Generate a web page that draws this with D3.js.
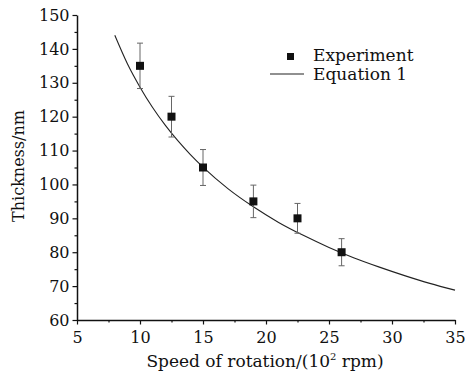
<!DOCTYPE html>
<html>
<head>
<meta charset="utf-8">
<script src="https://cdn.jsdelivr.net/npm/d3@7"></script>
<style>
  body { margin: 0; background: #fff; }
  svg text { font-family: "DejaVu Serif", "Liberation Serif", serif; fill: #111; }
</style>
</head>
<body>
<div id="chart"></div>
<script>
// experiment points
const speeds = [10, 12.5, 15, 19, 22.5, 26];
const thickness = [135, 120, 105, 95, 90, 80];
const errors = [6.7, 6, 5.3, 4.8, 4.4, 4];

// Equation 1 curve
const curveX = [8, 9, 10, 11, 12, 13, 14, 15, 17, 19, 21, 23, 25, 27, 29, 31, 33, 35];
const curveY = [144, 135.6, 128.7, 122.7, 117.5, 112.9, 108.8, 105.1, 98.7, 93.4, 88.8, 84.9, 81.4, 78.3, 75.6, 73.1, 70.8, 68.8];

const xTicks = [5, 10, 15, 20, 25, 30, 35];
const yTicks = [60, 70, 80, 90, 100, 110, 120, 130, 140, 150];
const legendLabels = ["Experiment", "Equation 1"];

const width = 465, height = 375;
const margin = { left: 77, right: 10, top: 15, bottom: 55 };

const svg = d3.select("#chart").append("svg")
  .attr("width", width)
  .attr("height", height);

const x = d3.scaleLinear().domain([5, 35]).range([margin.left, 455]);
const y = d3.scaleLinear().domain([60, 150]).range([height - margin.bottom, margin.top]);

// minor ticks first
svg.append("g")
  .attr("transform", "translate(0," + y(60) + ")")
  .call(d3.axisBottom(x).tickValues(d3.range(7.5, 35, 5)).tickSize(2.5).tickFormat(""))
  .call(g => g.select(".domain").remove());
svg.append("g")
  .attr("transform", "translate(" + x(5) + ",0)")
  .call(d3.axisLeft(y).tickValues(d3.range(65, 150, 10)).tickSize(2.5).tickFormat(""))
  .call(g => g.select(".domain").remove());

const xAxis = svg.append("g")
  .attr("transform", "translate(0," + y(60) + ")")
  .call(d3.axisBottom(x).tickValues(xTicks).tickSize(4.5).tickSizeOuter(0).tickPadding(5));
const yAxis = svg.append("g")
  .attr("transform", "translate(" + x(5) + ",0)")
  .call(d3.axisLeft(y).tickValues(yTicks).tickSize(4.5).tickSizeOuter(0).tickPadding(3));

svg.selectAll(".domain").attr("stroke", "#111").attr("stroke-width", 1.5);
svg.selectAll(".tick line").attr("stroke", "#111").attr("stroke-width", 1.2);
xAxis.selectAll("text").style("font-size", "16px").attr("dy", "0.85em");
yAxis.selectAll("text").style("font-size", "16px");

// axis titles
const xt = svg.append("text")
  .attr("x", 265)
  .attr("y", 367)
  .attr("text-anchor", "middle")
  .style("font-size", "17px");
xt.append("tspan").text("Speed of rotation/(10");
xt.append("tspan").attr("dy", -7).style("font-size", "10px").text("2");
xt.append("tspan").attr("dy", 7).text(" rpm)");

svg.append("text")
  .attr("transform", "translate(24," + 166 + ") rotate(-90)")
  .attr("text-anchor", "middle")
  .style("font-size", "16px")
  .text("Thickness/nm");

// fitted curve
const line = d3.line()
  .x(d => x(d[0]))
  .y(d => y(d[1]))
  .curve(d3.curveMonotoneX);
svg.append("path")
  .datum(d3.zip(curveX, curveY))
  .attr("fill", "none")
  .attr("stroke", "#222")
  .attr("stroke-width", 1.1)
  .attr("d", line);

// error bars
const pts = speeds.map((s, i) => ({ s: s, t: thickness[i], e: errors[i] }));
const eb = svg.append("g").attr("stroke", "#666").attr("stroke-width", 1);
eb.selectAll(".v").data(pts).enter().append("line")
  .attr("x1", d => x(d.s)).attr("x2", d => x(d.s))
  .attr("y1", d => y(d.t + d.e)).attr("y2", d => y(d.t - d.e));
eb.selectAll(".top").data(pts).enter().append("line")
  .attr("x1", d => x(d.s) - 3).attr("x2", d => x(d.s) + 3)
  .attr("y1", d => y(d.t + d.e)).attr("y2", d => y(d.t + d.e));
eb.selectAll(".bot").data(pts).enter().append("line")
  .attr("x1", d => x(d.s) - 3).attr("x2", d => x(d.s) + 3)
  .attr("y1", d => y(d.t - d.e)).attr("y2", d => y(d.t - d.e));

// markers
svg.selectAll(".pt").data(pts).enter().append("rect")
  .attr("x", d => x(d.s) - 4)
  .attr("y", d => y(d.t) - 4)
  .attr("width", 8)
  .attr("height", 8)
  .attr("fill", "#111");

// legend
const lg = svg.append("g");
lg.append("rect").attr("x", 287).attr("y", 53).attr("width", 7).attr("height", 7).attr("fill", "#111");
lg.append("line").attr("x1", 270).attr("x2", 304).attr("y1", 74).attr("y2", 74)
  .attr("stroke", "#222").attr("stroke-width", 1.1);
lg.selectAll("text").data(legendLabels).enter().append("text")
  .attr("x", 313)
  .attr("y", (d, i) => 61 + i * 19)
  .style("font-size", "17px")
  .text(d => d);
</script>
</body>
</html>
